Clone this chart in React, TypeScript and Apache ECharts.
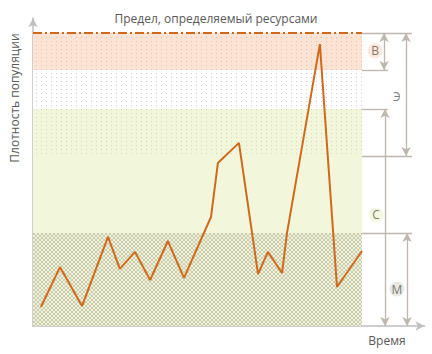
import React, { useEffect, useRef } from "react";
import * as echarts from "echarts";

// Time (arbitrary units, 0..100 across the plot) and population density (0..100 = resource limit)
const timePoints = [2.4, 8.2, 14.9, 22.8, 26.4, 31.0, 35.6, 41.0, 45.9, 54.1, 56.2, 62.6, 68.4, 71.4, 75.7, 77.2, 87.2, 92.4, 100];
const density = [6.5, 20.1, 6.8, 30.4, 19.5, 25.3, 15.7, 29.0, 16.4, 37.2, 55.6, 62.5, 17.7, 25.3, 18.1, 31.7, 96.2, 13.3, 25.6];

// Zone boundaries on the density scale
const zoneM = [0, 31.7];
const zoneC = [31.7, 74.1];
const zoneE = [58, 100];
const zoneB = [87.4, 100];
const limitLevel = 100;

// Zone labels and their positions
const zoneLabels = ["В", "Э", "С", "М"];
const zoneLabelX = [104, 110.6, 104.3, 110.6];
const zoneLabelY = [93.9, 78.2, 37.9, 12.6];

const titleText = "Предел, определяемый ресурсами";
const yName = "Плотность популяции";
const xName = "Время";

function makePattern(bg: string, fg: string, w: number, h: number, pts: number[][]) {
  const c = document.createElement("canvas");
  c.width = w;
  c.height = h;
  const ctx = c.getContext("2d")!;
  ctx.fillStyle = bg;
  ctx.fillRect(0, 0, w, h);
  ctx.fillStyle = fg;
  pts.forEach(([x, y]) => ctx.fillRect(x, y, 1, 1));
  return { image: c.toDataURL(), repeat: "repeat", imageWidth: w, imageHeight: h } as any;
}

export default function App() {
  const ref = useRef<HTMLDivElement>(null);
  useEffect(() => {
    document.body.style.margin = "0";
    const chart = echarts.init(ref.current!, null, { renderer: "svg" });

    const dotPts = [[1, 1]];
    const peachDots = makePattern("#fce3d3", "#dcc4b5", 5, 4, dotPts);
    const whiteDots = makePattern("#ffffff", "#cfcfcf", 5, 4, dotPts);
    const greenDots = makePattern("#f2f6da", "#d2d5bf", 5, 4, dotPts);
    const cross = makePattern("#f1f3d8", "#c9ccb1", 4, 4, [
      [0, 0], [1, 1], [2, 2], [3, 3], [3, 0], [2, 1], [1, 2], [0, 3],
    ]);

    const annColor = "#bdb7ad";
    const orange = "#d0691b";
    const xR = 100;
    const hLine = (y: number, x2: number) => [
      { coord: [xR, y], symbol: "none" },
      { coord: [x2, y], symbol: "none" },
    ];
    const vArrow = (x: number, y1: number, y2: number) => [
      { coord: [x, y1], symbol: "arrow" },
      { coord: [x, y2], symbol: "arrow" },
    ];

    chart.setOption({
      animation: false,
      grid: { left: 33, right: 7.5, top: 18.35, bottom: 28, containLabel: false },
      xAxis: {
        type: "value",
        min: 0,
        max: 119,
        axisLine: { show: true, symbol: ["none", "arrow"], symbolSize: [7, 9], lineStyle: { color: "#bfbfbf", width: 1.5 } },
        axisTick: { show: false },
        axisLabel: { show: false },
        splitLine: { show: false },
      },
      yAxis: {
        type: "value",
        min: 0,
        max: 105,
        axisLine: { show: true, symbol: ["none", "arrow"], symbolSize: [7, 9], lineStyle: { color: "#bfbfbf", width: 1.5 } },
        axisTick: { show: false },
        axisLabel: { show: false },
        splitLine: { show: false },
      },
      graphic: [
        {
          type: "text",
          left: "center",
          top: 12,
          style: { text: titleText, fill: "#595959", font: "12px 'Open Sans'", textAlign: "center" },
        },
        {
          type: "text",
          x: 14,
          y: 98,
          rotation: Math.PI / 2,
          style: { text: yName, fill: "#595959", font: "12px 'Open Sans'", textAlign: "center", textVerticalAlign: "middle" },
          originX: 0,
          originY: 0,
        },
        {
          type: "text",
          x: 387,
          y: 340,
          style: { text: xName, fill: "#595959", font: "12px 'Open Sans'", textAlign: "center", textVerticalAlign: "middle" },
        },
      ],
      series: [
        {
          type: "line",
          z: 1,
          data: [],
          silent: true,
          markArea: {
            silent: true,
            label: { show: false },
            data: [
              [{ xAxis: 0, yAxis: zoneM[0], itemStyle: { color: cross } }, { xAxis: xR, yAxis: zoneM[1] }],
              [{ xAxis: 0, yAxis: zoneC[0], itemStyle: { color: "#f2f6da" } }, { xAxis: xR, yAxis: zoneE[0] }],
              [{ xAxis: 0, yAxis: zoneE[0], itemStyle: { color: greenDots } }, { xAxis: xR, yAxis: zoneC[1] }],
              [{ xAxis: 0, yAxis: zoneC[1], itemStyle: { color: whiteDots } }, { xAxis: xR, yAxis: zoneB[0] }],
              [{ xAxis: 0, yAxis: zoneB[0], itemStyle: { color: peachDots } }, { xAxis: xR, yAxis: zoneB[1] }],
            ],
          },
          markLine: {
            silent: true,
            symbolSize: [7, 9],
            label: { show: false },
            emphasis: { disabled: true },
            lineStyle: { color: annColor, width: 1.3, type: "solid" },
            data: [
              hLine(zoneE[1], 115.2),
              hLine(zoneB[0], 107.9),
              hLine(zoneC[1], 107.9),
              hLine(zoneE[0], 115.2),
              hLine(zoneM[1], 115.2),
              vArrow(106.7, zoneB[1], zoneB[0]),
              vArrow(113.4, zoneE[1], zoneE[0]),
              vArrow(107.0, zoneC[1], 0),
              vArrow(113.7, zoneM[1], 0),
              [
                { coord: [0, limitLevel], symbol: "none", lineStyle: { color: orange, width: 2, type: [9, 3, 2, 3] } },
                { coord: [xR, limitLevel], symbol: "none" },
              ],
            ],
          },
        },
        {
          type: "line",
          z: 5,
          data: timePoints.map((t, i) => [t, density[i]]),
          showSymbol: false,
          symbol: "none",
          lineStyle: { color: orange, width: 2 },
          silent: true,
        },
        {
          type: "scatter",
          z: 6,
          silent: true,
          symbol: "circle",
          symbolSize: 15,
          data: zoneLabels.map((l, i) => ({
            value: [zoneLabelX[i], zoneLabelY[i]],
            name: l,
            itemStyle: {
              color: ["#fce3d3", "rgba(255,255,255,0)", "#f2f6da", "#e4e4dc"][i],
            },
          })),
          label: {
            show: true,
            position: "inside",
            formatter: (p: any) => p.name,
            color: "#595959",
            fontSize: 12,
            fontFamily: "Open Sans",
          },
        },
      ],
    });
    return () => chart.dispose();
  }, []);
  return <div ref={ref} style={{ width: 432, height: 354 }} />;
}
